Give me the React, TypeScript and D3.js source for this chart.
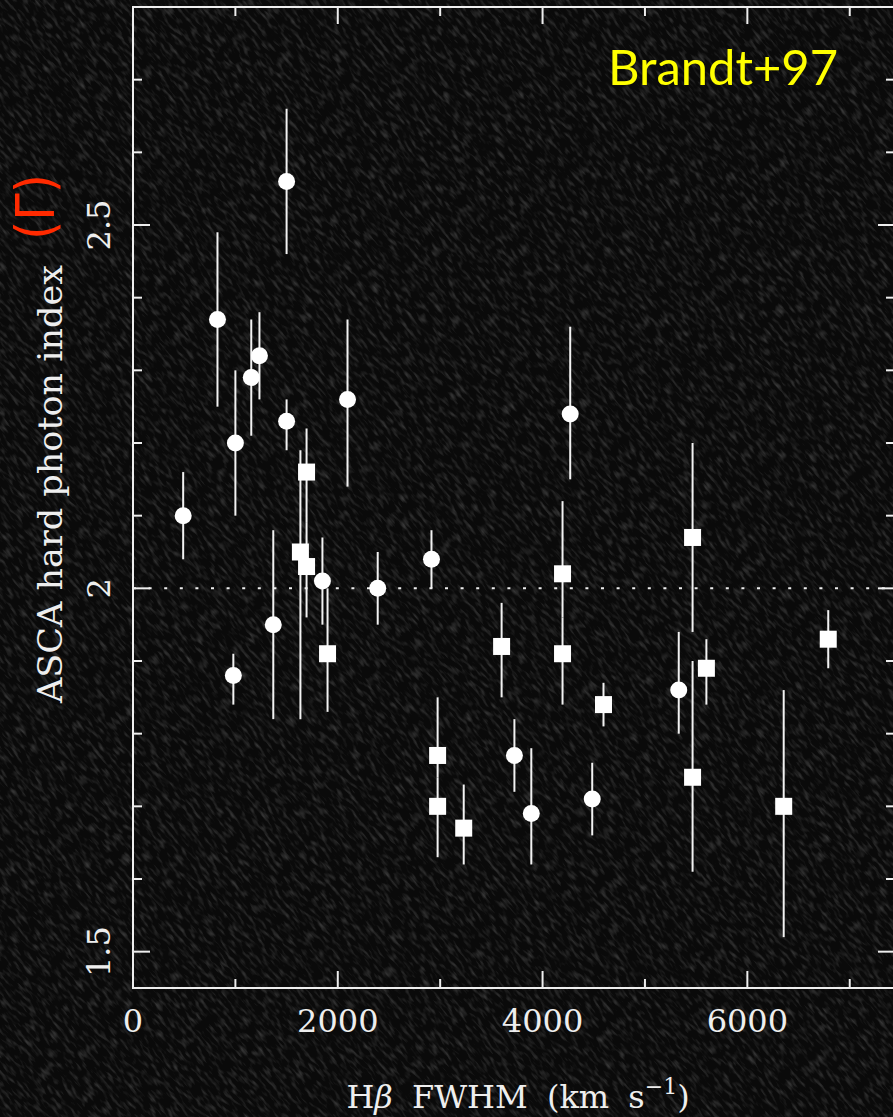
import * as d3 from "d3";

// Seyfert sample (Brandt+97): circles and squares, value with error range
const circleFwhm = [490, 825, 1000, 1155, 1235, 1500, 1500, 1370, 980, 1850, 2095, 2390, 2915, 4270, 3725, 3890, 4485, 5330];
const circleGamma = [2.1, 2.37, 2.2, 2.29, 2.32, 2.56, 2.23, 1.95, 1.88, 2.01, 2.26, 2.0, 2.04, 2.24, 1.77, 1.69, 1.71, 1.86];
const circleHi = [2.16, 2.49, 2.3, 2.37, 2.38, 2.66, 2.26, 2.08, 1.91, 2.07, 2.37, 2.05, 2.08, 2.36, 1.82, 1.78, 1.76, 1.94];
const circleLo = [2.04, 2.25, 2.1, 2.21, 2.26, 2.46, 2.19, 1.82, 1.84, 1.95, 2.14, 1.95, 2.0, 2.15, 1.72, 1.62, 1.66, 1.8];

const squareFwhm = [1695, 1635, 1695, 1900, 2975, 2975, 3230, 3600, 4195, 4195, 4595, 5465, 5465, 5600, 6355, 6790];
const squareGamma = [2.16, 2.05, 2.03, 1.91, 1.77, 1.7, 1.67, 1.92, 2.02, 1.91, 1.84, 2.07, 1.74, 1.89, 1.7, 1.93];
const squareHi = [2.22, 2.19, 2.09, 2.0, 1.85, 1.74, 1.73, 1.98, 2.12, 1.96, 1.87, 2.2, 1.9, 1.93, 1.86, 1.97];
const squareLo = [2.09, 1.82, 1.96, 1.83, 1.74, 1.63, 1.62, 1.85, 1.96, 1.84, 1.81, 1.94, 1.61, 1.84, 1.52, 1.89];

const xMajor = [0, 2000, 4000, 6000];
const xMinor = [1000, 3000, 5000, 7000];
const yMajor = [1.5, 2, 2.5];
const yMinor = [1.6, 1.7, 1.8, 1.9, 2.1, 2.2, 2.3, 2.4, 2.6, 2.7];
const yLabels = ["1.5", "2", "2.5"];
const xLabels = ["0", "2000", "4000", "6000"];

const width = 893;
const height = 1117;
const left = 133;
const right = 895;
const top = 7;
const bottom = 988;
const ink = "#eeeeee";
const serif = "'DejaVu Serif', serif";

export default function App() {
  const x = d3.scaleLinear([0, 7442], [left, right]);
  const y = d3.scaleLinear([1.45, 2.8], [bottom, top]);
  const major = 17;
  const minor = 9;

  return (
    <svg
      width={width}
      height={height}
      style={{ position: "absolute", left: 0, top: 0, display: "block" }}
    >
      <defs>
        <filter id="grain" x="-400" y="-400" width="1800" height="2000" filterUnits="userSpaceOnUse">
          <feTurbulence type="fractalNoise" baseFrequency="0.3 0.09" numOctaves="2" seed="4" />
          <feColorMatrix
            type="matrix"
            values="0 0 0 0 0.5  0 0 0 0 0.5  0 0 0 0 0.5  0 0 0 1.6 -0.75"
          />
        </filter>
      </defs>
      <rect width={width} height={height} fill="#0a0a0a" />
      <g transform={`rotate(-40 ${width / 2} ${height / 2})`}>
        <rect x={-400} y={-400} width={1800} height={2000} filter="url(#grain)" opacity={0.4} />
      </g>

      {/* frame */}
      <rect
        x={left}
        y={top}
        width={right - left}
        height={bottom - top}
        fill="none"
        stroke={ink}
        strokeWidth={2}
      />

      {/* ticks */}
      <g stroke={ink} strokeWidth={2}>
        {xMajor.concat(xMinor).map((d) => {
          const len = xMajor.includes(d) ? major : minor;
          return (
            <g key={"x" + d}>
              <line x1={x(d)} x2={x(d)} y1={bottom} y2={bottom - len} />
              <line x1={x(d)} x2={x(d)} y1={top} y2={top + len} />
            </g>
          );
        })}
        {yMajor.concat(yMinor).map((d) => {
          const len = yMajor.includes(d) ? major : minor;
          return (
            <g key={"y" + d}>
              <line x1={left} x2={left + len} y1={y(d)} y2={y(d)} />
              <line x1={right} x2={right - len} y1={y(d)} y2={y(d)} />
            </g>
          );
        })}
      </g>

      {/* Gamma = 2 reference */}
      <line
        x1={left}
        x2={right}
        y1={y(2)}
        y2={y(2)}
        stroke={ink}
        strokeWidth={2}
        strokeDasharray="3 12.6"
      />

      {/* tick labels */}
      <g fill={ink} fontFamily={serif} fontSize={32} textAnchor="middle">
        {xMajor.map((d, i) => (
          <text key={d} x={x(d)} y={1032}>
            {xLabels[i]}
          </text>
        ))}
        {yMajor.map((d, i) => (
          <text key={d} transform={`translate(110,${y(d)}) rotate(-90)`}>
            {yLabels[i]}
          </text>
        ))}
      </g>

      {/* error bars */}
      <g stroke="#f2f2f2" strokeWidth={2}>
        {circleFwhm.map((d, i) => (
          <line key={"ce" + i} x1={x(d)} x2={x(d)} y1={y(circleLo[i])} y2={y(circleHi[i])} />
        ))}
        {squareFwhm.map((d, i) => (
          <line key={"se" + i} x1={x(d)} x2={x(d)} y1={y(squareLo[i])} y2={y(squareHi[i])} />
        ))}
      </g>

      {/* markers */}
      <g fill="#ffffff">
        {circleFwhm.map((d, i) => (
          <circle key={"c" + i} cx={x(d)} cy={y(circleGamma[i])} r={8.5} />
        ))}
        {squareFwhm.map((d, i) => (
          <rect
            key={"s" + i}
            x={x(d) - 8.5}
            y={y(squareGamma[i]) - 8.5}
            width={17}
            height={17}
          />
        ))}
      </g>

      {/* axis titles */}
      <text
        transform="translate(62,484) rotate(-90)"
        fill={ink}
        fontFamily={serif}
        fontSize={33}
        textAnchor="middle"
        textLength={438}
        lengthAdjust="spacingAndGlyphs"
      >
        ASCA hard photon index
      </text>
      <text
        x={518}
        y={1108}
        fill={ink}
        fontFamily={serif}
        fontSize={32}
        textAnchor="middle"
        wordSpacing={9}
      >
        H<tspan fontStyle="italic">β</tspan> FWHM (km s
        <tspan fontSize={22} dy={-14}>
          −1
        </tspan>
        <tspan dy={14}>)</tspan>
      </text>

      <text
        transform="translate(54,207) rotate(-90)"
        fill="#ff2a00"
        fontFamily="'DejaVu Sans', sans-serif"
        fontSize={54}
        textAnchor="middle"
        textLength={66}
        lengthAdjust="spacingAndGlyphs"
      >
        (Γ)
      </text>

      <text
        x={608}
        y={85}
        fill="#ffff00"
        fontFamily="Lato, 'DejaVu Sans', sans-serif"
        fontSize={49}
        textLength={230}
        lengthAdjust="spacingAndGlyphs"
      >
        Brandt+97
      </text>
    </svg>
  );
}
